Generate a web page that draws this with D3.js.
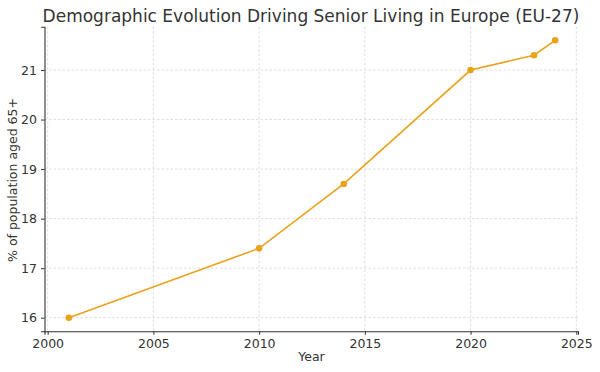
<!DOCTYPE html>
<html><head><meta charset="utf-8">
<script src="https://cdn.jsdelivr.net/npm/d3@7"></script>
<style>body{margin:0;background:#fff}svg{display:block}text{font-family:"DejaVu Sans",sans-serif}</style>
</head><body><svg id="c" width="600" height="372"></svg>
<script>
const years = [2001, 2010, 2014, 2020, 2023, 2024];
const shares = [16.0, 17.4, 18.7, 21.0, 21.3, 21.6];
const xTicks = [2000, 2005, 2010, 2015, 2020, 2025];
const yTicks = [16, 17, 18, 19, 20, 21];
const title = "Demographic Evolution Driving Senior Living in Europe (EU-27)";
const xLabel = "Year";
const yLabel = "% of population aged 65+";

const svg = d3.select("#c");
const m = {l: 44.5, r: 578, t: 26.7, b: 331.3};
const x = d3.scaleLinear().domain([1999.85, 2025.08]).range([m.l, m.r]);
const y = d3.scaleLinear().domain([15.725, 21.875]).range([m.b, m.t]);
const col = "#E8A21C";

// grid
svg.append("g").selectAll("line").data(xTicks).join("line")
  .attr("x1", d => x(d)).attr("x2", d => x(d)).attr("y1", m.t).attr("y2", m.b)
  .attr("stroke", "#d6d6d6").attr("stroke-width", 0.8).attr("stroke-dasharray", "2.5,2");
svg.append("g").selectAll("line").data(yTicks).join("line")
  .attr("y1", d => y(d)).attr("y2", d => y(d)).attr("x1", m.l).attr("x2", m.r)
  .attr("stroke", "#d6d6d6").attr("stroke-width", 0.8).attr("stroke-dasharray", "2.5,2");

// axes
const xa = svg.append("g").attr("transform", `translate(0,${m.b})`)
  .call(d3.axisBottom(x).tickValues(xTicks).tickFormat(d3.format("d")).tickSize(3.5).tickPadding(4));
const ya = svg.append("g").attr("transform", `translate(${m.l},0)`)
  .call(d3.axisLeft(y).tickValues(yTicks).tickFormat(d3.format("d")).tickSize(3.5).tickPadding(4));
[xa, ya].forEach(a => {
  a.select(".domain").attr("stroke", "#333").attr("stroke-width", 1.1);
  a.selectAll(".tick line").attr("stroke", "#333");
  a.selectAll(".tick text").attr("fill", "#333").style("font-size", "12.5px").style("font-family", "DejaVu Sans");
});

// line
svg.append("path").datum(years.map((d, i) => [d, shares[i]]))
  .attr("fill", "none").attr("stroke", col).attr("stroke-width", 1.6)
  .attr("d", d3.line().x(d => x(d[0])).y(d => y(d[1])));
svg.append("g").selectAll("circle").data(years.map((d, i) => [d, shares[i]])).join("circle")
  .attr("cx", d => x(d[0])).attr("cy", d => y(d[1])).attr("r", 3.3).attr("fill", col);

// texts
svg.append("text").attr("x", 311).attr("y", 21.5).attr("text-anchor", "middle")
  .attr("fill", "#333").style("font-size", "17px").text(title);
svg.append("text").attr("x", 311.5).attr("y", 361).attr("text-anchor", "middle")
  .attr("fill", "#333").style("font-size", "12.5px").text(xLabel);
svg.append("text").attr("transform", "translate(17,180) rotate(-90)").attr("text-anchor", "middle")
  .attr("fill", "#333").style("font-size", "12.5px").text(yLabel);
</script></body></html>
